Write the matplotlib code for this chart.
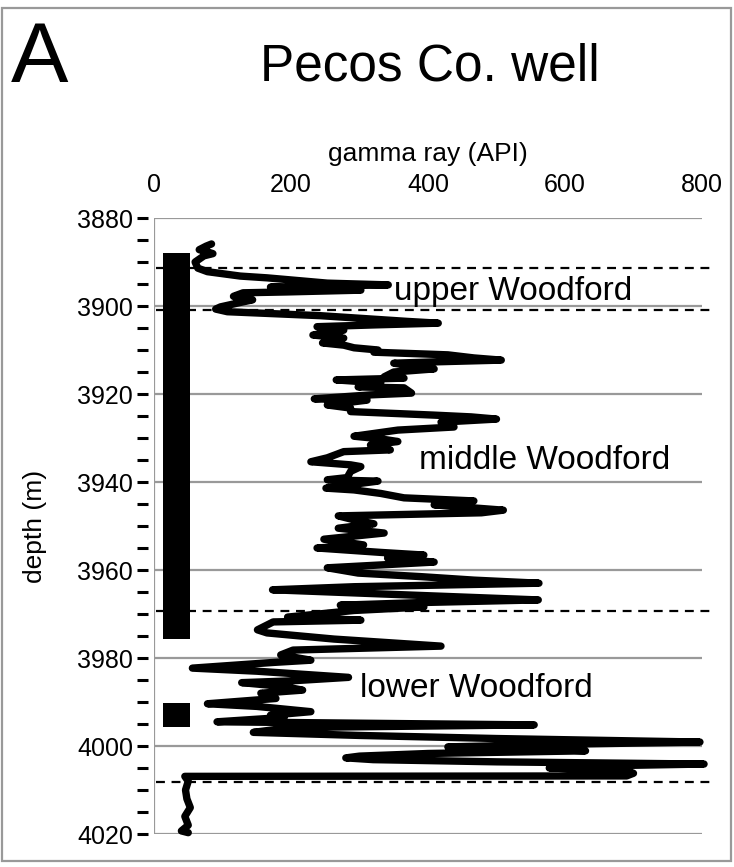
import matplotlib
matplotlib.use("Agg")
import matplotlib.pyplot as plt
from matplotlib.patches import Rectangle

plt.rcParams['font.family'] = ['Liberation Sans', 'DejaVu Sans']

# gamma ray log (API) vs depth (m)
depth = [3885.9, 3886.4, 3887.2, 3887.7, 3888.1, 3888.6, 3890.0, 3891.4, 3892.2, 3893.2,
         3893.6, 3894.8, 3895.2, 3895.5, 3895.7, 3896.2, 3896.4, 3896.8, 3897.0, 3897.8,
         3898.3, 3898.6, 3899.2, 3900.2, 3900.7, 3901.3, 3902.2, 3903.5, 3903.9, 3904.3,
         3904.7, 3905.5, 3906.0, 3906.6, 3907.3, 3908.0, 3908.4, 3908.9, 3909.5, 3910.0,
         3910.5, 3911.1, 3911.8, 3912.3, 3912.7, 3913.0, 3913.7, 3914.3, 3915.0, 3916.1,
         3916.4, 3916.8, 3917.5, 3918.4, 3918.6, 3919.8, 3920.2, 3921.1, 3921.4, 3922.5,
         3923.2, 3924.0, 3924.8, 3925.2, 3925.7, 3926.4, 3927.0, 3927.5, 3928.2, 3929.6,
         3930.2, 3930.8, 3931.6, 3932.7, 3933.1, 3934.5, 3935.4, 3936.1, 3936.5, 3937.6,
         3939.0, 3939.5, 3939.8, 3940.5, 3941.4, 3941.8, 3942.6, 3943.6, 3944.3, 3945.2,
         3946.4, 3947.0, 3947.7, 3948.6, 3949.5, 3950.5, 3951.6, 3953.0, 3954.3, 3955.0,
         3956.0, 3956.6, 3957.3, 3958.2, 3959.5, 3960.7, 3961.5, 3962.3, 3963.0, 3963.8,
         3964.5, 3965.2, 3965.7, 3966.8, 3967.4, 3968.0, 3968.4, 3969.2, 3970.7, 3971.4,
         3971.8, 3973.6, 3974.3, 3975.7, 3976.5, 3977.3, 3978.2, 3979.3, 3980.5, 3981.0,
         3982.3, 3983.0, 3984.4, 3985.2, 3985.6, 3986.5, 3987.3, 3988.0, 3989.2, 3990.4,
         3991.0, 3992.2, 3993.0, 3993.5, 3994.5, 3995.2, 3995.8, 3996.9, 3997.6, 3998.3,
         3999.1, 3999.6, 4000.2, 4000.6, 4001.1, 4001.7, 4002.3, 4002.7, 4003.1, 4003.6,
         4004.1, 4004.6, 4005.0, 4005.6, 4006.2, 4006.8, 4006.9, 4008.0, 4010.0, 4012.0,
         4014.0, 4016.0, 4018.0, 4019.3, 4019.7]
gamma = [84, 76, 66, 78, 86, 73, 60, 64, 78, 126,
         165, 253, 342, 243, 170, 243, 302, 195, 130, 116,
         126, 144, 126, 97, 90, 107, 243, 370, 415, 321,
         238, 277, 253, 232, 277, 263, 246, 277, 292, 327,
         321, 429, 467, 507, 409, 350, 379, 409, 350, 336,
         365, 266, 331, 298, 365, 376, 316, 234, 311, 253,
         287, 287, 409, 463, 500, 419, 433, 438, 356, 292,
         331, 356, 316, 345, 277, 253, 229, 287, 302, 287,
         282, 253, 327, 292, 251, 292, 331, 365, 467, 409,
         510, 478, 269, 292, 321, 269, 336, 248, 306, 238,
         331, 394, 341, 409, 253, 298, 389, 467, 562, 292,
         173, 292, 379, 561, 389, 272, 394, 292, 195, 302,
         174, 151, 165, 263, 341, 419, 203, 185, 229, 175,
         56, 150, 284, 200, 128, 190, 217, 156, 178, 78,
         150, 229, 170, 190, 92, 555, 200, 145, 300, 500,
         797, 600, 429, 560, 630, 400, 300, 280, 320, 500,
         803, 620, 577, 690, 700, 690, 45, 50, 46, 48,
         53, 45, 50, 40, 50]

# formation boundaries (m) and labels
boundaries = [3891.4, 3901.0, 3969.3, 4008.2]
unit_names = ['upper Woodford', 'middle Woodford', 'lower Woodford']
unit_label_x = [350, 387, 300]
unit_label_y = [3896.8, 3935.2, 3986.9]

# sampled intervals (top, base) in m
core_top = [3888.0, 3990.2]
core_base = [3975.7, 3995.6]

depth_ticks = [3880, 3900, 3920, 3940, 3960, 3980, 4000, 4020]
gamma_ticks = [0, 200, 400, 600, 800]

W, H = 734, 867
fig = plt.figure(figsize=(W / 100, H / 100), dpi=100)
ax = fig.add_axes([154 / W, 1 - 834 / H, (702 - 154) / W, (834 - 218) / H])
ax.set_xlim(0, 800)
ax.set_ylim(4020, 3880)

grey = '#999999'
for s in ax.spines.values():
    s.set_visible(False)
ax.hlines(depth_ticks, 0, 800, color=grey, lw=1.6, zorder=1)
ax.axvline(0, color=grey, lw=1.6, zorder=1)

# sampled intervals
for t, b in zip(core_top, core_base):
    ax.add_patch(Rectangle((13, t), 40, b - t, color='black', lw=0, zorder=2))

# formation tops
for b in boundaries:
    ax.plot([3, 815], [b, b], color='black', lw=1.6, ls=(0, (4, 3)), clip_on=False, zorder=2)

ax.plot(gamma, depth, color='black', lw=5.3, solid_capstyle='round',
        solid_joinstyle='round', clip_on=False, zorder=3)

for name, x, y in zip(unit_names, unit_label_x, unit_label_y):
    ax.text(x, y, name, fontsize=24, ha='left', va='center', zorder=4)

# axes
ax.xaxis.tick_top()
ax.xaxis.set_label_position('top')
ax.set_xticks(gamma_ticks)
ax.tick_params(axis='x', length=0, pad=15, labelsize=18)
ax.set_xlabel('gamma ray (API)', fontsize=19, labelpad=9)

ax.spines['left'].set_position(('outward', 4))
ax.set_yticks(depth_ticks)
ax.set_yticks(range(3885, 4020, 5), minor=True)
ax.tick_params(axis='y', which='both', direction='out', length=8, width=2.2, color='black')
ax.tick_params(axis='y', which='major', pad=3, labelsize=18)
ax.set_ylabel('depth (m)', fontsize=19)
ax.yaxis.set_label_coords(-0.195, 0.5)

fig.text(430 / W, 1 - 67 / H, 'Pecos Co. well', fontsize=37, ha='center', va='center')
fig.text(11 / W, 1 - 60 / H, 'A', fontsize=62, ha='left', va='center')

fig.add_artist(Rectangle((2 / W, 6 / H), 729 / W, 853 / H, transform=fig.transFigure,
                         fill=False, edgecolor=grey, lw=1.6))

fig.savefig('out.png', dpi=100)
